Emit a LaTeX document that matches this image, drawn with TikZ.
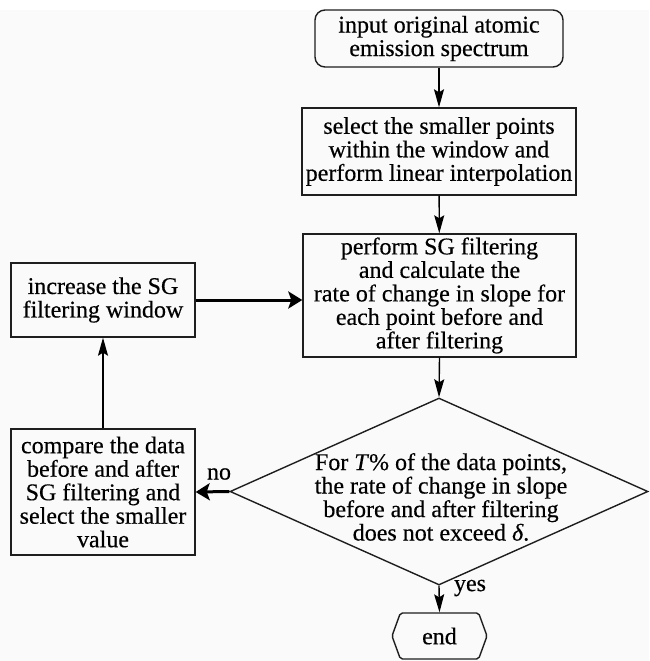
\documentclass[tikz,border=0pt]{standalone}
\usepackage{fontspec}
\setmainfont{Liberation Serif}[FakeBold=0.4]
\usetikzlibrary{shapes.geometric,shapes.symbols,arrows.meta}
\definecolor{bgc}{RGB}{250,250,250}
\definecolor{linec}{RGB}{30,30,30}
\tikzset{
  every node/.style={font=\fontsize{24}{23.5}\selectfont, inner sep=0pt, align=center},
  procbox/.style={draw=linec, line width=1.4pt, rectangle},
  startbox/.style={draw=linec, line width=1.4pt, rectangle, rounded corners=10pt},
  decbox/.style={draw=linec, line width=1.4pt, diamond},
  endbox/.style={draw=linec, line width=1.4pt, signal, signal to=west and east, signal pointer angle=140, rounded corners=2pt},
  thinarrow/.style={line width=1.4pt, -{Stealth[length=18pt,width=10pt,inset=3pt]}},
  thickarrow/.style={line width=3pt, -{Stealth[length=14pt,width=17pt,inset=3pt]}},
}
\begin{document}
\begin{tikzpicture}[x=1pt,y=-1pt]
\useasboundingbox (0,0) rectangle (649,661);
\fill[white] (0,0) rectangle (649,10);
\fill[bgc] (0,10) rectangle (649,661);

\node[startbox, minimum width=248pt, minimum height=57pt] (start) at (439,38.5)
  {input original atomic\\emission spectrum};
\node[procbox, minimum width=274pt, minimum height=87pt] (sel) at (439,151.5)
  {select the smaller points\\within the window and\\perform linear interpolation};
\node[procbox, minimum width=273pt, minimum height=123pt] (sg) at (439.5,295.5)
  {perform SG filtering\\and calculate the\\rate of change in slope for\\each point before and\\after filtering};
\node[decbox, minimum width=418pt, minimum height=187pt] (dec) at (439,491.5) {};
\node (dectext) at (441,497)
  {For \textit{T}\% of the data points,\\the rate of change in slope\\before and after filtering\\does not exceed \textit{δ}.};
\node[endbox, minimum width=95pt, minimum height=46pt] (stop) at (439.5,636) {end};
\node[procbox, minimum width=184pt, minimum height=126pt] (cmp) at (103,492)
  {compare the data\\before and after\\SG filtering and\\select the smaller\\value};
\node[procbox, minimum width=184pt, minimum height=74pt] (inc) at (103,300)
  {increase the SG\\filtering window};

\node (nolab) at (219,474) {no};
\node (yeslab) at (470,588) {yes};

\draw[thinarrow] (start) -- (sel);
\draw[thinarrow] (sel) -- (sg);
\draw[thinarrow] (sg.south) -- (dec.north);
\draw[thinarrow] (dec.south) -- (stop.north);
\draw[thickarrow] (dec.west) -- (cmp.east);
\draw[thinarrow] (cmp) -- (inc);
\draw[thickarrow] (inc.east) -- (inc.east -| sg.west);
\end{tikzpicture}
\end{document}
